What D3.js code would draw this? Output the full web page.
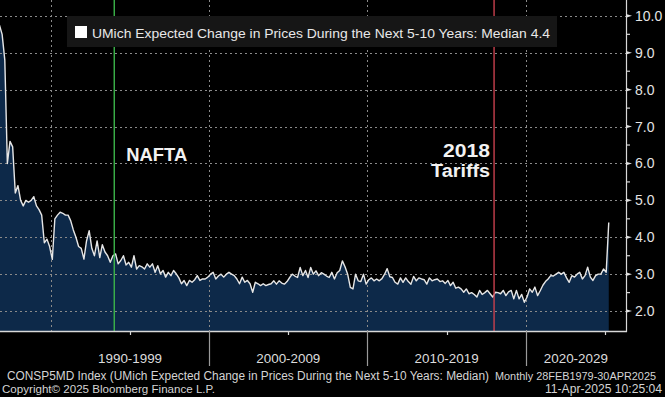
<!DOCTYPE html>
<html><head><meta charset="utf-8">
<script src="https://cdn.jsdelivr.net/npm/d3@7"></script>
<style>html,body{margin:0;padding:0;background:#000;overflow:hidden}</style>
</head><body><svg id="c" width="665" height="397"></svg>
<script>
// ---- data ----
const seriesStart = "1986-10-01";   // first plotted observation
const stepMonths = 2;               // spacing between the values below
const values = [
  9.75, 9.5, 8.8, 6.0, 6.6, 6.45, 5.2, 5.4, 5.0, 4.85,
  5.0, 4.95, 5.0, 5.1, 4.85, 4.75, 4.6, 3.85, 3.95, 3.75,
  3.4, 4.5, 4.6, 4.68, 4.65, 4.6, 4.6, 4.45, 4.2, 4.0,
  3.75, 3.7, 3.41, 3.9, 4.18, 3.7, 3.5, 3.9, 3.45, 3.8,
  3.6, 3.5, 3.32, 3.5, 3.55, 3.28, 3.37, 3.5, 3.25, 3.32,
  3.19, 3.5, 3.14, 3.23, 3.2, 3.14, 3.28, 3.19, 3.28, 3.05,
  3.23, 3.01, 3.1, 2.92, 3.05, 2.96, 3.1, 3.01, 2.9, 2.74,
  2.83, 2.69, 2.83, 2.78, 2.85, 2.96, 2.83, 2.87, 2.87, 2.92,
  3.0, 3.05, 2.87, 2.95, 3.0, 2.92, 3.0, 3.05, 3.0, 2.96,
  2.87, 2.74, 2.92, 2.78, 2.83, 2.74, 2.51, 2.78, 2.74, 2.69,
  2.74, 2.69, 2.72, 2.74, 2.82, 2.73, 2.82, 2.76, 2.73, 2.8,
  2.91, 3.0, 2.95, 2.91, 3.18, 2.96, 3.1, 2.91, 3.18, 3.0,
  3.09, 2.96, 3.04, 3.0, 2.95, 2.91, 3.05, 2.87, 3.04, 3.1,
  3.36, 3.2, 3.0, 2.64, 2.6, 3.0, 2.82, 2.8, 3.0, 2.73,
  2.85, 2.9, 2.82, 2.87, 2.82, 2.88, 3.0, 3.15, 2.93, 2.91,
  2.78, 2.73, 2.9, 2.78, 2.9, 2.8, 2.73, 2.94, 2.82, 2.9,
  2.87, 2.85, 2.73, 2.9, 2.82, 2.85, 2.87, 2.8, 2.82, 2.75,
  2.83, 2.69, 2.78, 2.62, 2.65, 2.6, 2.51, 2.6, 2.47, 2.5,
  2.45, 2.38, 2.56, 2.45, 2.5, 2.56, 2.47, 2.38, 2.51, 2.5,
  2.47, 2.56, 2.42, 2.52, 2.56, 2.33, 2.56, 2.33, 2.45, 2.24,
  2.38, 2.6, 2.51, 2.65, 2.42, 2.55, 2.7, 2.8, 2.87, 2.96,
  2.95, 3.0, 3.05, 3.0, 3.05, 2.9, 2.78, 2.96, 2.92, 3.0,
  3.05, 2.87, 2.96, 3.19, 2.92, 2.83, 2.96, 3.0, 3.0, 3.14,
  3.05, 4.4
];
const xDomain = ["1986-10-13", "2026-05-04"];
const yDomain = [1.46, 10.43];
const yTicks = [2, 3, 4, 5, 6, 7, 8, 9, 10];
const yMinorTicks = [2.5, 3.5, 4.5, 5.5, 6.5, 7.5, 8.5, 9.5];
const decadeLabels = ["1990-1999", "2000-2009", "2010-2019", "2020-2029"];
const decadeStarts = ["1990-01-01", "2000-01-01", "2010-01-01", "2020-01-01"];
const decadeEnds   = ["2000-01-01", "2010-01-01", "2020-01-01", "2030-01-01"];
const midDecadeTicks = ["1995-01-01", "2005-01-01", "2015-01-01", "2025-01-01"];
const eventDates  = ["1994-01-01", "2018-01-01"];
const eventLabels = [["NAFTA"], ["2018", "Tariffs"]];
const legendText = "UMich Expected Change in Prices During the Next 5-10 Years: Median 4.4";
const footer1a = "CONSP5MD Index (UMich Expected Change in Prices During the Next 5-10 Years: Median)";
const footer1b = "Monthly 28FEB1979-30APR2025";
const footer2a = "Copyright\u00A9 2025 Bloomberg Finance L.P.";
const footer2b = "11-Apr-2025 10:25:04";

// ---- chart ----
const svg = d3.select("#c");
const W = 665, H = 397;
const plot = {left: 0, right: 626, top: 0, bottom: 331};
const FONT = "'Liberation Sans', Arial, sans-serif";
svg.append("rect").attr("width", W).attr("height", H).attr("fill", "#000");

// text helper: shrinks the font until the natural width fits, then pins the width
function fitText(sel, target) {
  const node = sel.node();
  let fs = parseFloat(sel.attr("font-size"));
  let w = node.getComputedTextLength();
  if (w > target) { fs = fs * target / w; sel.attr("font-size", fs.toFixed(2)); }
  sel.attr("textLength", target).attr("lengthAdjust", "spacingAndGlyphs");
  return sel;
}

const parse = d3.utcParse("%Y-%m-%d");
const start = parse(seriesStart);
const data = values.map((v, i) => ({date: d3.utcMonth.offset(start, i * stepMonths), value: v}));

const x = d3.scaleUtc().domain(xDomain.map(parse)).range([plot.left, plot.right]);
const y = d3.scaleLinear().domain(yDomain).range([plot.bottom, plot.top]);

// area
svg.append("path").datum(data)
  .attr("fill", "#0d2949")
  .attr("d", d3.area().x(d => x(d.date)).y0(plot.bottom).y1(d => y(d.value)));

// gridlines
const grid = svg.append("g").attr("stroke", "#8a8a8a").attr("stroke-width", 1).attr("stroke-dasharray", "2,3");
grid.selectAll("line.h").data(yTicks).join("line")
  .attr("x1", plot.left).attr("x2", plot.right)
  .attr("y1", d => Math.round(y(d)) + 0.5).attr("y2", d => Math.round(y(d)) + 0.5);
grid.selectAll("line.v").data(decadeStarts.map(parse)).join("line")
  .attr("x1", d => Math.round(x(d)) + 0.5).attr("x2", d => Math.round(x(d)) + 0.5)
  .attr("y1", plot.top).attr("y2", plot.bottom);

// line
svg.append("path").datum(data)
  .attr("fill", "none").attr("stroke", "#e6e6e6").attr("stroke-width", 1.4)
  .attr("stroke-linejoin", "round")
  .attr("d", d3.line().x(d => x(d.date)).y(d => y(d.value)));

// event lines
const eventColors = ["#3cb54a", "#c8404e"];
eventDates.forEach((d, i) => {
  const ex = x(parse(d));
  svg.append("line").attr("x1", ex).attr("x2", ex).attr("y1", plot.top).attr("y2", plot.bottom)
    .attr("stroke", eventColors[i]).attr("stroke-width", 1.4);
});
// event labels
{
  const ex = x(parse(eventDates[0]));
  fitText(svg.append("text").attr("x", ex + 12).attr("y", 160.5)
    .attr("font-family", FONT).attr("font-weight", "bold").attr("font-size", 18)
    .attr("fill", "#f2f2f2").text(eventLabels[0][0]), 61);
  const ex2 = x(parse(eventDates[1]));
  const t = eventLabels[1];
  fitText(svg.append("text").attr("x", ex2 - 4).attr("y", 157.3).attr("text-anchor", "end")
    .attr("font-family", FONT).attr("font-weight", "bold").attr("font-size", 17.5)
    .attr("fill", "#f2f2f2").text(t[0]), 47);
  fitText(svg.append("text").attr("x", ex2 - 4).attr("y", 176.7).attr("text-anchor", "end")
    .attr("font-family", FONT).attr("font-weight", "bold").attr("font-size", 17.5)
    .attr("fill", "#f2f2f2").text(t[1]), 59);
}

// legend
svg.append("rect").attr("x", 67).attr("y", 16).attr("width", 490).attr("height", 31).attr("fill", "#161616");
svg.append("rect").attr("x", 75).attr("y", 26).attr("width", 12).attr("height", 12).attr("fill", "#ffffff");
fitText(svg.append("text").attr("x", 92).attr("y", 38.3)
  .attr("font-family", FONT).attr("font-size", 13.5).attr("fill", "#e8e8e8")
  .text(legendText), 458);

// right axis
const ra = svg.append("g");
ra.append("line").attr("x1", plot.right + 0.5).attr("x2", plot.right + 0.5)
  .attr("y1", plot.top).attr("y2", plot.bottom + 1).attr("stroke", "#d8d8d8").attr("stroke-width", 1.2);
ra.selectAll("path.maj").data(yTicks).join("path")
  .attr("d", d => { const yy = y(d); return `M${plot.right},${yy - 1.8}L${plot.right + 6},${yy}L${plot.right},${yy + 1.8}Z`; })
  .attr("fill", "#e0e0e0");
ra.selectAll("line.min").data(yMinorTicks).join("line")
  .attr("x1", plot.right).attr("x2", plot.right + 4)
  .attr("y1", d => y(d)).attr("y2", d => y(d)).attr("stroke", "#d8d8d8").attr("stroke-width", 1.2);
ra.selectAll("text").data(yTicks).join("text")
  .attr("x", 635).attr("y", d => y(d) + 5)
  .attr("font-family", FONT).attr("font-size", 14).attr("fill", "#e4e4e4")
  .text(d => d3.format(".1f")(d));

// bottom axis
const ba = svg.append("g");
ba.append("line").attr("x1", plot.left).attr("x2", plot.right + 1)
  .attr("y1", plot.bottom + 0.5).attr("y2", plot.bottom + 0.5).attr("stroke", "#d8d8d8").attr("stroke-width", 1.5);
ba.selectAll("line.sep").data(decadeStarts.slice(1).map(parse)).join("line")
  .attr("x1", d => Math.round(x(d)) + 0.5).attr("x2", d => Math.round(x(d)) + 0.5)
  .attr("y1", plot.bottom).attr("y2", plot.bottom + 35).attr("stroke", "#9a9a9a").attr("stroke-width", 1.2);
ba.selectAll("line.mid").data(midDecadeTicks.map(parse)).join("line")
  .attr("x1", d => Math.round(x(d)) + 0.5).attr("x2", d => Math.round(x(d)) + 0.5)
  .attr("y1", plot.bottom).attr("y2", plot.bottom + 4).attr("stroke", "#d8d8d8").attr("stroke-width", 1.2);
ba.selectAll("text").data(decadeLabels).join("text")
  .attr("x", (d, i) => {
    const a = Math.max(plot.left, x(parse(decadeStarts[i])));
    const b = Math.min(plot.right, x(parse(decadeEnds[i])));
    return (a + b) / 2;
  })
  .attr("y", 363).attr("text-anchor", "middle")
  .attr("font-family", FONT).attr("font-size", 14.5).attr("fill", "#dcdcdc")
  .text(d => d)
  .each(function() { fitText(d3.select(this), 64); });

// footer
function ft(txt, xx, yy, len, anchor) {
  fitText(svg.append("text").attr("x", xx).attr("y", yy).attr("text-anchor", anchor || "start")
    .attr("font-family", FONT).attr("font-size", 12.5).attr("fill", "#d4d4d4").text(txt), len);
}
ft(footer1a, 7, 380, 482);
ft(footer1b, 495, 380, 161);
ft(footer2a, 2, 393, 213);
ft(footer2b, 662, 393, 117, "end");
</script></body></html>
